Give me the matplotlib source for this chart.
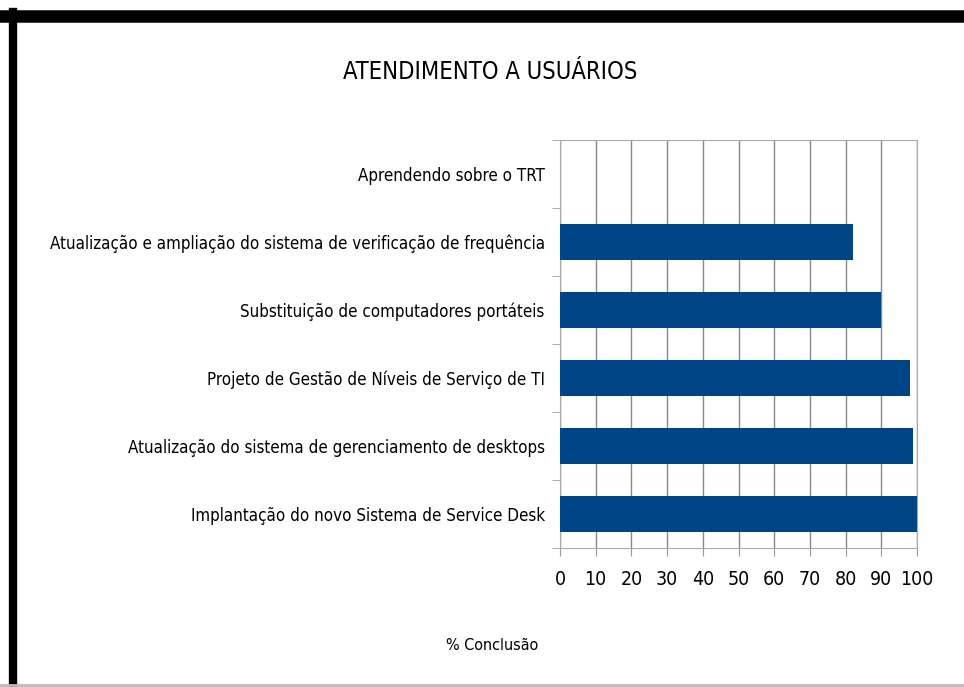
import matplotlib.pyplot as plt
import numpy as np
from matplotlib.lines import Line2D

# Dados do gráfico (de cima para baixo)
projetos = [
    "Aprendendo sobre o TRT",
    "Atualização e ampliação do sistema de verificação de frequência",
    "Substituição de computadores portáteis",
    "Projeto de Gestão de Níveis de Serviço de TI",
    "Atualização do sistema de gerenciamento de desktops",
    "Implantação do novo Sistema de Service Desk",
]
conclusao = [0, 82, 90, 98, 99, 100]
ticks_x = list(range(0, 101, 10))

plt.rcParams['font.family'] = ['DejaVu Sans']
plt.rcParams['font.stretch'] = 'condensed'

fig = plt.figure(figsize=(9.64, 6.87), dpi=100)
ax = fig.add_axes([560 / 964, 1 - 548 / 687, 357 / 964, 408 / 687])

pos = np.arange(len(projetos))
ax.barh(pos, conclusao, height=0.52, color='#004586', zorder=3)
ax.set_ylim(len(projetos) - 0.5, -0.5)
ax.set_xlim(0, 100)

ax.set_xticks(ticks_x)
ax.set_xticklabels([str(t) for t in ticks_x], fontsize=14)
ax.set_yticks(pos)
ax.set_yticklabels(projetos, fontsize=12.2)
ax.set_yticks(np.arange(-0.5, len(projetos)), minor=True)
ax.tick_params(axis='y', which='major', length=0, pad=11)
ax.tick_params(axis='y', which='minor', length=6, color='#999999')
ax.tick_params(axis='x', length=6, color='#999999', pad=10)

ax.grid(axis='x', color='#888888', linewidth=1, zorder=0)
for s in ax.spines.values():
    s.set_color('#aaaaaa')

ax.set_xlabel('% Conclusão', fontsize=11.5)
ax.xaxis.set_label_coords(-0.19, -0.22)

fig.text(490 / 964, 1 - 72 / 687, 'ATENDIMENTO A USUÁRIOS', fontsize=17,
         ha='center', va='center')

# moldura da planilha
fig.add_artist(Line2D([5 / 964, 1], [1 - 16 / 687, 1 - 16 / 687], color='black', linewidth=9))
fig.add_artist(Line2D([13 / 964, 13 / 964], [0, 1 - 12 / 687], color='black', linewidth=6))
fig.add_artist(Line2D([0, 1], [2 / 687, 2 / 687], color='#bbbbbb', linewidth=2))

fig.savefig('out.png', dpi=100)
